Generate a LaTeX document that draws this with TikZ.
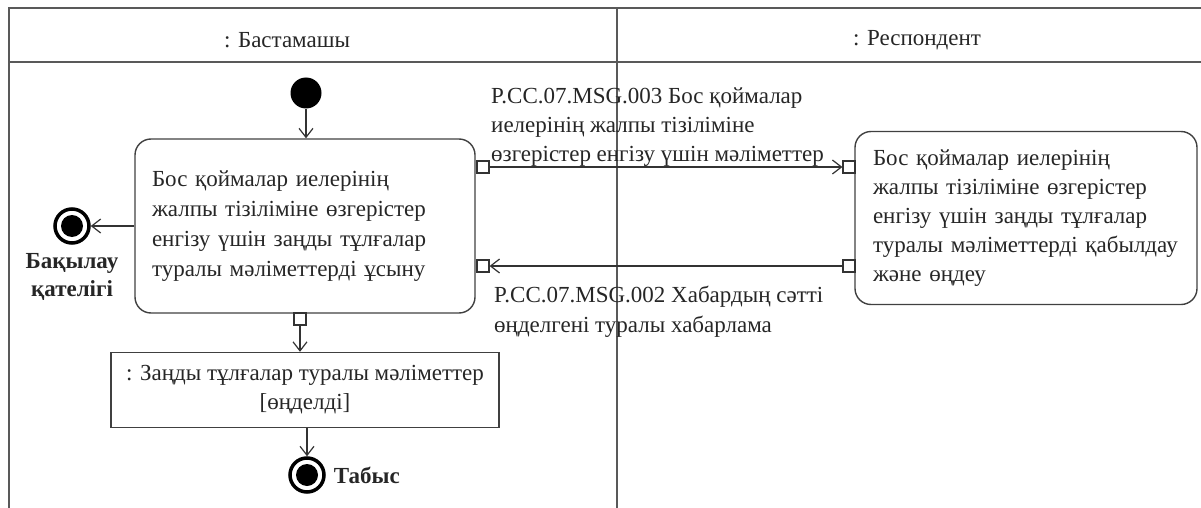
\documentclass[tikz,border=0pt]{standalone}
\usepackage{fontspec}
\setmainfont{Liberation Serif}
\usetikzlibrary{arrows.meta, positioning}

\begin{document}
\begin{tikzpicture}[
    x=1pt, y=-1pt,
    every node/.style={font=\fontsize{23}{29}\selectfont, inner sep=0pt, text=black!85},
    action/.style={rectangle, draw=black!75, rounded corners=16pt, line width=1.4pt, minimum height=174pt, text width=306pt, align=left},
    objnode/.style={rectangle, draw=black!75, line width=1.4pt, minimum width=388pt, minimum height=75pt, align=center},
    pin/.style={rectangle, draw=black!80, fill=white, line width=1.2pt, minimum size=12pt},
    startnode/.style={circle, fill=black, minimum size=31pt},
    endnode/.style={circle, draw=black, line width=3.5pt, fill=white, minimum size=34pt,
        path picture={\fill[black] (path picture bounding box.center) circle (11pt);}},
    flow/.style={-{Straight Barb[length=9pt, width=14pt]}, line width=1.2pt, draw=black!80},
    lane/.style={line width=1.5pt, draw=black!65}
]
\useasboundingbox (0,0) rectangle (1201,508);

% Swimlanes
\draw[lane] (9,508) -- (9,8) -- (1201,8);
\draw[lane] (9,62) -- (1201,62);
\draw[lane] (617,8) -- (617,508);
\node (laneA) at (287,40) {: Бастамашы};
\node (laneB) at (917,40) {: Респондент};

% Nodes
\node[startnode] (start) at (306,93) {};
\node[action, minimum width=340pt, font=\fontsize{23}{30}\selectfont] (send) at (305,226)
    {Бос қоймалар иелерінің\\жалпы тізіліміне өзгерістер\\енгізу үшін заңды тұлғалар\\туралы мәліметтерді ұсыну\\[-6pt]};
\node[action, minimum width=342pt, minimum height=173pt] (receive) at (1026,218)
    {Бос қоймалар иелерінің\\жалпы тізіліміне өзгерістер\\енгізу үшін заңды тұлғалар\\туралы мәліметтерді қабылдау\\және өңдеу};
\node[objnode] (result) at (305,390) {: Заңды тұлғалар туралы мәліметтер\\{}[өңделді]};
\node[endnode] (errEnd) at (72,226) {};
\node[below=8pt of errEnd, align=center, font=\fontsize{23}{28}\selectfont\bfseries] (errLabel) {Бақылау\\қателігі};
\node[endnode] (okEnd) at (307,475) {};
\node[right=8pt of okEnd, font=\fontsize{23}{29}\selectfont\bfseries] (okLabel) {Табыс};

% Pins
\node[pin] (sendOut) at (483,167) {};
\node[pin] (sendIn) at (483,266) {};
\node[pin] (sendObj) at (300,319) {};
\node[pin] (recvIn) at (849,167) {};
\node[pin] (recvOut) at (849,266) {};

% Message labels
\node[anchor=south west, align=left] (msgReq) at (491,167)
    {P.CC.07.MSG.003 Бос қоймалар\\иелерінің жалпы тізіліміне\\өзгерістер енгізу үшін мәліметтер};
\node[anchor=north west, align=left, font=\fontsize{23}{30}\selectfont] (msgAck) at (494,286)
    {P.CC.07.MSG.002 Хабардың сәтті\\өңделгені туралы хабарлама};

% Paths
\draw[flow] (start) -- (start |- send.north);
\draw[flow] (send) -- (errEnd);
\draw[flow] (sendOut) -- (recvIn);
\draw[flow] (recvOut) -- (sendIn);
\draw[flow] (sendObj) -- (sendObj |- result.north);
\draw[flow] (result.south -| okEnd) -- (okEnd);

\end{tikzpicture}
\end{document}
